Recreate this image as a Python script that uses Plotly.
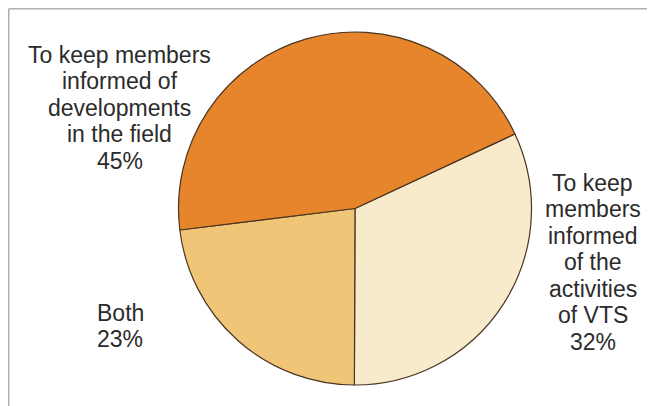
import plotly.graph_objects as go

slice_names = ["activities", "both", "developments"]
values = [32, 23, 45]
colors = ["#F7EBCB", "#F1C578", "#E6852C"]

label_right = ["To keep", "members", "informed", "of the", "activities", "of VTS"]
label_both = ["Both"]
label_left = ["To keep members", "informed of", "developments", "in the field"]

W, H = 647, 398          # figure size (page body has an 8px margin)
OFF = 8                   # screen offset of the figure


def fx(px):
    return (px - OFF) / W


def fy(py):
    return 1 - (py - OFF) / H


cx, cy, r = 355, 208.5, 176.5

fig = go.Figure(go.Pie(
    values=values,
    labels=slice_names,
    sort=False,
    direction="clockwise",
    rotation=65,
    marker=dict(colors=colors, line=dict(color="#4A3522", width=1.2)),
    textinfo="none",
    hoverinfo="label+percent",
    showlegend=False,
    domain=dict(x=[fx(cx - r), fx(cx + r)], y=[fy(cy + r), fy(cy - r)]),
))

FS = 23
font = dict(family="Liberation Sans, Arial, sans-serif", size=FS, color="#2b2b2b")
step = 26.5

groups = [
    (label_left + ["%d%%" % values[2]], 119.5, 63, "center"),
    (label_right + ["%d%%" % values[0]], 592.5, 191, "center"),
    (label_both + ["%d%%" % values[1]], 95, 321, "left"),
]
for lines, px, base0, anchor in groups:
    for i, t in enumerate(lines):
        base = base0 + i * step
        fig.add_annotation(
            text=t, x=fx(px), y=fy(base - 0.36 * FS), xref="paper", yref="paper",
            showarrow=False, xanchor=anchor, yanchor="middle", font=font,
        )

frame = dict(color="#b0b0b0", width=1.5)
fig.add_shape(type="line", xref="paper", yref="paper",
              x0=fx(8.75), x1=fx(8.75), y0=0, y1=fy(8.75), line=frame)
fig.add_shape(type="line", xref="paper", yref="paper",
              x0=fx(8.75), x1=fx(650), y0=fy(8.75), y1=fy(8.75), line=frame)
fig.add_shape(type="line", xref="paper", yref="paper",
              x0=fx(650), x1=fx(650), y0=0, y1=fy(8.75), line=frame)

fig.update_layout(
    width=W, height=H,
    margin=dict(l=0, r=0, t=0, b=0),
    paper_bgcolor="white", plot_bgcolor="white",
)

fig.write_html("out.html")
